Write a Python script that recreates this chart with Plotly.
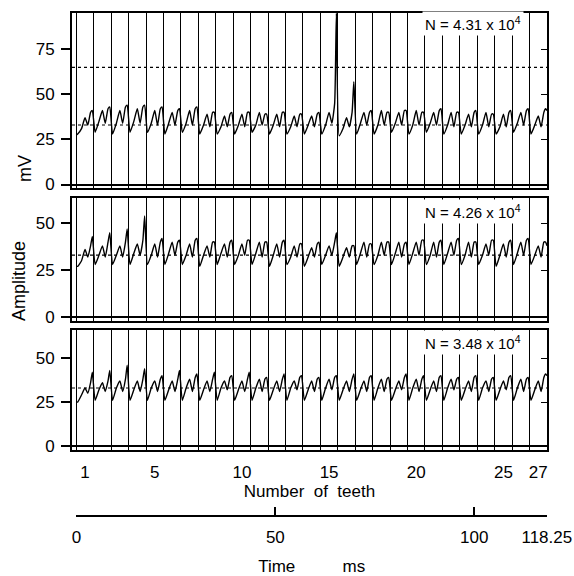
import plotly.graph_objects as go

# ---------------- data ----------------
N_TEETH = 27
TOTAL_MS = 118.25
TOOTH_LABELS = [1, 5, 10, 15, 20, 25, 27]
TIME_TICKS = [0, 50, 100, 118.25]
TIME_TICK_TEXT = ["0", "50", "100", "118.25"]

# sample phases inside one tooth period (fraction of a tooth)
PHASES = [0.08, 0.30, 0.50, 0.66, 0.82, 0.92]

TOP_START, TOP_END = 27.5, 41
TOP_WAVE = [
    [28, 31, 37, 33, 40, 41], [29, 35, 41, 34, 42, 43], [28, 34, 41, 34, 43, 44],
    [29, 35, 42, 34, 43, 44], [29, 34, 41, 33, 42, 43], [28, 34, 40, 33, 41, 42],
    [29, 34, 41, 33, 42, 43], [28, 33, 39, 32, 40, 40], [28, 32, 38, 32, 39, 40],
    [28, 33, 39, 32, 40, 40], [29, 33, 40, 33, 39, 39], [28, 33, 39, 32, 40, 40],
    [28, 32, 38, 32, 39, 39], [28, 33, 38, 32, 39, 40], [28, 33, 40, 34, 45, 95],
    [27, 31, 37, 32, 40, 57], [28, 34, 40, 33, 40, 41], [28, 33, 41, 33, 40, 40],
    [29, 34, 40, 33, 41, 41], [28, 33, 41, 33, 40, 40], [29, 34, 40, 33, 41, 42],
    [28, 33, 40, 32, 40, 40], [28, 33, 39, 32, 40, 41], [28, 33, 40, 32, 39, 39],
    [28, 32, 39, 32, 40, 41], [29, 34, 40, 33, 41, 42], [28, 33, 38, 32, 40, 42],
]

MID_START, MID_END = 27, 38
MID_WAVE = [
    [27, 30, 36, 32, 38, 43], [28, 33, 38, 32, 40, 45], [28, 33, 38, 32, 40, 47],
    [28, 34, 39, 33, 41, 54], [28, 33, 39, 32, 40, 42], [28, 34, 40, 33, 40, 41],
    [28, 33, 39, 32, 41, 42], [27, 33, 38, 32, 40, 40], [28, 34, 39, 32, 40, 41],
    [28, 33, 39, 33, 41, 41], [28, 34, 40, 32, 40, 40], [27, 33, 39, 32, 40, 41],
    [28, 32, 38, 32, 39, 39], [27, 32, 37, 32, 39, 40], [28, 33, 38, 33, 40, 45],
    [27, 32, 37, 32, 38, 38], [28, 34, 40, 32, 39, 39], [28, 33, 40, 33, 40, 40],
    [28, 34, 40, 32, 39, 40], [28, 34, 40, 33, 41, 41], [28, 33, 40, 32, 40, 41],
    [28, 34, 40, 33, 41, 42], [28, 33, 40, 32, 40, 40], [28, 33, 39, 33, 41, 41],
    [27, 33, 39, 32, 40, 41], [28, 34, 40, 33, 41, 42], [28, 33, 38, 32, 40, 40],
]

BOT_START, BOT_END = 25, 40
BOT_WAVE = [
    [25, 29, 33, 30, 36, 42], [26, 32, 36, 31, 37, 43], [26, 33, 37, 31, 38, 46],
    [26, 32, 37, 31, 38, 44], [26, 33, 37, 31, 38, 40], [26, 32, 37, 31, 38, 43],
    [26, 33, 38, 31, 39, 41], [26, 32, 37, 31, 38, 42], [26, 33, 37, 32, 39, 40],
    [26, 32, 37, 31, 38, 42], [26, 33, 38, 31, 38, 39], [26, 32, 37, 31, 38, 41],
    [26, 33, 37, 32, 39, 40], [26, 32, 37, 31, 38, 39], [26, 33, 38, 32, 39, 40],
    [26, 32, 37, 31, 38, 41], [26, 32, 37, 31, 39, 40], [26, 33, 38, 31, 38, 39],
    [26, 32, 37, 32, 39, 41], [26, 33, 38, 31, 38, 40], [26, 32, 37, 31, 39, 40],
    [26, 33, 38, 32, 38, 39], [26, 32, 37, 31, 39, 40], [26, 33, 37, 31, 38, 39],
    [26, 32, 37, 32, 39, 40], [26, 33, 38, 31, 38, 39], [26, 32, 37, 31, 39, 41],
]

N_LABELS = ["N = 4.31 x 10<sup>4</sup>", "N = 4.26 x 10<sup>4</sup>", "N = 3.48 x 10<sup>4</sup>"]
REF_LEVELS = [[65, 33], [33], [33]]

# ---------------- helpers ----------------
TOOTH_MS = TOTAL_MS / N_TEETH
boundaries = [i * TOOTH_MS for i in range(N_TEETH)]
tooth_centers = [(k - 0.5) * TOOTH_MS for k in TOOTH_LABELS]


def build(wave, start, end):
    xs, ys = [0.0], [start]
    for k, vals in enumerate(wave):
        for ph, v in zip(PHASES, vals):
            xs.append((k + ph) * TOOTH_MS)
            ys.append(v)
    xs.append(TOTAL_MS)
    ys.append(end)
    return xs, ys


FONT = "Liberation Sans"
fig = go.Figure()
panels = [(TOP_WAVE, TOP_START, TOP_END), (MID_WAVE, MID_START, MID_END), (BOT_WAVE, BOT_START, BOT_END)]
for i, (w, s, e) in enumerate(panels):
    xs, ys = build(w, s, e)
    sfx = "" if i == 0 else str(i + 1)
    fig.add_trace(go.Scatter(x=xs, y=ys, mode="lines",
                             line=dict(color="black", width=1.4, shape="spline", smoothing=0.5),
                             xaxis="x" + sfx, yaxis="y" + sfx, showlegend=False, hoverinfo="skip"))
    # invisible helper so the right-hand inner tick axis is drawn
    fig.add_trace(go.Scatter(x=[0], y=[0], mode="markers", marker=dict(opacity=0),
                             xaxis="x" + sfx, yaxis="y" + str(i + 4), showlegend=False, hoverinfo="skip"))
# invisible helper for the time axis
fig.add_trace(go.Scatter(x=TIME_TICKS, y=[0] * len(TIME_TICKS), mode="markers", marker=dict(opacity=0),
                         xaxis="x4", yaxis="y7", showlegend=False, hoverinfo="skip"))

X_RANGE = [-1.08, TOTAL_MS]
y_domains = [[0.6508, 1.0], [0.3865, 0.6309], [0.1295, 0.3685]]
y_ranges = [[-2.1, 95.1], [-2.3, 63.5], [-2.3, 66]]
y_ticks = [[0, 25, 50, 75], [0, 25, 50], [0, 25, 50]]

layout = dict(
    width=574, height=576, autosize=False,
    margin=dict(l=72, r=27, t=13, b=61),
    paper_bgcolor="white", plot_bgcolor="white",
    font=dict(family=FONT, size=17, color="black"),
    showlegend=False,
    hovermode=False,
)

for i in range(3):
    sfx = "" if i == 0 else str(i + 1)
    xa = dict(
        domain=[0, 1], range=X_RANGE, anchor="y" + sfx, automargin=False,
        showline=True, mirror=True, linecolor="black", linewidth=2,
        showgrid=False, zeroline=False, ticks="",
        showticklabels=False,
        minor=dict(tickmode="array", tickvals=boundaries, showgrid=True,
                   gridcolor="black", gridwidth=1.3, ticks=""),
    )
    if i == 2:
        xa.update(showticklabels=True, tickmode="array", tickvals=tooth_centers,
                  ticktext=[str(t) for t in TOOTH_LABELS], tickfont=dict(size=17),
                  ticklabelstandoff=6,
                  title=dict(text="Number  of  teeth", font=dict(size=17), standoff=2))
    layout["xaxis" + sfx] = xa
    layout["yaxis" + sfx] = dict(
        domain=y_domains[i], range=y_ranges[i], anchor="x" + sfx, automargin=False,
        showline=True, mirror=True, linecolor="black", linewidth=2,
        showgrid=False, zeroline=True, zerolinecolor="black", zerolinewidth=2,
        tickmode="array", tickvals=y_ticks[i], ticks="outside", ticklen=9,
        tickcolor="black", tickwidth=1.5, tickfont=dict(size=17), ticklabelstandoff=3,
    )
    # inner ticks on the right border
    layout["yaxis" + str(i + 4)] = dict(
        domain=y_domains[i], range=y_ranges[i], anchor="x" + sfx, automargin=False,
        overlaying="y" + sfx, side="right",
        showline=False, showgrid=False, zeroline=False,
        tickmode="array", tickvals=y_ticks[i][1:], ticks="inside", ticklen=6,
        tickcolor="black", tickwidth=1.2, showticklabels=False,
    )

# time axis below the panels
t0_frac = -X_RANGE[0] / (X_RANGE[1] - X_RANGE[0])
layout["yaxis7"] = dict(domain=[0, 0.002], range=[0, 1], anchor="x4", visible=False, automargin=False)
layout["xaxis4"] = dict(
    domain=[t0_frac, 1], range=[-0.05, TOTAL_MS + 0.05], anchor="y7", automargin=False,
    showline=True, linecolor="black", linewidth=1.5,
    showgrid=False, zeroline=False,
    tickmode="array", tickvals=TIME_TICKS, ticktext=TIME_TICK_TEXT,
    ticks="inside", ticklen=8, tickcolor="black", tickwidth=1.5,
    ticklabelstandoff=6, tickfont=dict(size=17),
    title=dict(text="Time          ms", font=dict(size=17), standoff=22),
)

shapes = []
for i, levels in enumerate(REF_LEVELS):
    sfx = "" if i == 0 else str(i + 1)
    for lv in levels:
        shapes.append(dict(type="line", xref="x" + sfx + " domain", x0=0, x1=1,
                           yref="y" + sfx, y0=lv, y1=lv,
                           line=dict(color="black", width=1.2, dash="dot")))
layout["shapes"] = shapes

ann = []
n_y = [0.980, 0.604, 0.343]
for i, txt in enumerate(N_LABELS):
    ann.append(dict(text=txt, xref="paper", yref="paper", x=0.845, y=n_y[i],
                    xanchor="center", yanchor="middle",
                    showarrow=False, bgcolor="white", borderpad=2,
                    font=dict(size=15, family=FONT)))
ann.append(dict(text="mV", xref="paper", yref="paper", x=-0.099, y=0.691, textangle=-90,
                xanchor="center", yanchor="middle",
                showarrow=False, font=dict(size=18, family=FONT)))
ann.append(dict(text="Amplitude", xref="paper", yref="paper", x=-0.1116, y=0.466, textangle=-90,
                xanchor="center", yanchor="middle",
                showarrow=False, font=dict(size=18, family=FONT)))
layout["annotations"] = ann

fig.update_layout(**layout)
fig.write_html("out.html", config={"displayModeBar": False},
               post_script="document.body.style.margin='0px';document.body.style.overflow='hidden';")
